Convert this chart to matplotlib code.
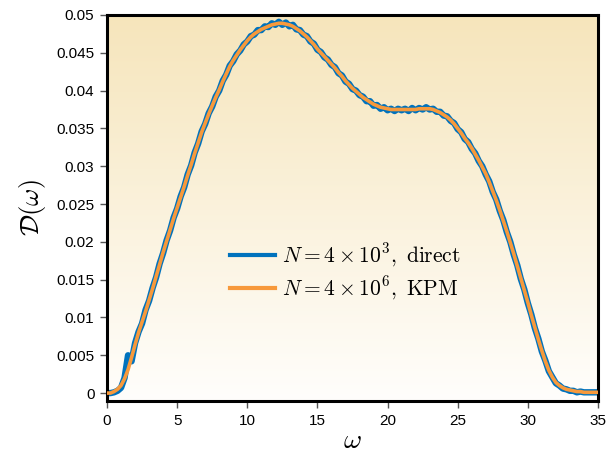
import numpy as np
import matplotlib
matplotlib.use("Agg")
import matplotlib.pyplot as plt
from matplotlib.colors import LinearSegmentedColormap
from matplotlib.ticker import FuncFormatter

plt.rcParams['mathtext.fontset'] = 'cm'
plt.rcParams['font.family'] = ['Liberation Sans', 'DejaVu Sans']

# energy grid (step 0.25 from 0 to 35)
omega = np.arange(141) * 0.25

# N = 4x10^6, KPM (orange, smooth)
dos_kpm = [
    0.0000, 0.0000, 0.0002, 0.0005, 0.0010, 0.0019, 0.0031, 0.0047, 0.0064, 0.0080,
    0.0094, 0.0108, 0.0123, 0.0138, 0.0154, 0.0170, 0.0186, 0.0201, 0.0216, 0.0231,
    0.0245, 0.0259, 0.0273, 0.0288, 0.0302, 0.0317, 0.0331, 0.0345, 0.0357, 0.0369,
    0.0380, 0.0391, 0.0401, 0.0412, 0.0422, 0.0432, 0.0440, 0.0447, 0.0454, 0.0460,
    0.0466, 0.0471, 0.0475, 0.0478, 0.0481, 0.0483, 0.0485, 0.0487, 0.0488, 0.0489,
    0.0489, 0.0488, 0.0487, 0.0485, 0.0482, 0.0479, 0.0475, 0.0471, 0.0466, 0.0461,
    0.0455, 0.0450, 0.0445, 0.0440, 0.0435, 0.0430, 0.0424, 0.0419, 0.0413, 0.0408,
    0.0403, 0.0399, 0.0395, 0.0391, 0.0388, 0.0385, 0.0382, 0.0380, 0.0378, 0.0377,
    0.0376, 0.0375, 0.0375, 0.0375, 0.0375, 0.0375, 0.0375, 0.0375, 0.0375, 0.0376,
    0.0376, 0.0376, 0.0376, 0.0375, 0.0373, 0.0371, 0.0368, 0.0365, 0.0361, 0.0356,
    0.0350, 0.0344, 0.0337, 0.0331, 0.0324, 0.0316, 0.0308, 0.0299, 0.0290, 0.0279,
    0.0267, 0.0255, 0.0242, 0.0228, 0.0214, 0.0199, 0.0184, 0.0168, 0.0152, 0.0136,
    0.0120, 0.0103, 0.0087, 0.0071, 0.0056, 0.0042, 0.0030, 0.0021, 0.0014, 0.0010,
    0.0007, 0.0005, 0.0004, 0.0003, 0.0002, 0.0002, 0.0001, 0.0001, 0.0001, 0.0001,
    0.0001]

# N = 4x10^3, direct diagonalisation (blue, noisy)
dos_direct = [
    0.0000, 0.0000, 0.0001, 0.0003, 0.0007, 0.0020, 0.0050, 0.0042, 0.0066, 0.0081,
    0.0092, 0.0110, 0.0122, 0.0139, 0.0153, 0.0171, 0.0185, 0.0202, 0.0215, 0.0232,
    0.0244, 0.0260, 0.0272, 0.0289, 0.0301, 0.0318, 0.0330, 0.0346, 0.0356, 0.0370,
    0.0379, 0.0392, 0.0400, 0.0413, 0.0421, 0.0433, 0.0439, 0.0448, 0.0453, 0.0461,
    0.0465, 0.0472, 0.0474, 0.0480, 0.0480, 0.0485, 0.0484, 0.0489, 0.0487, 0.0491,
    0.0487, 0.0490, 0.0485, 0.0487, 0.0481, 0.0480, 0.0474, 0.0472, 0.0465, 0.0462,
    0.0454, 0.0451, 0.0444, 0.0441, 0.0434, 0.0431, 0.0423, 0.0420, 0.0412, 0.0409,
    0.0402, 0.0400, 0.0394, 0.0392, 0.0386, 0.0386, 0.0380, 0.0381, 0.0376, 0.0378,
    0.0374, 0.0376, 0.0373, 0.0376, 0.0374, 0.0376, 0.0373, 0.0377, 0.0374, 0.0377,
    0.0375, 0.0378, 0.0375, 0.0376, 0.0372, 0.0372, 0.0367, 0.0366, 0.0360, 0.0357,
    0.0349, 0.0345, 0.0336, 0.0332, 0.0323, 0.0317, 0.0307, 0.0300, 0.0289, 0.0280,
    0.0266, 0.0256, 0.0241, 0.0229, 0.0213, 0.0200, 0.0183, 0.0169, 0.0151, 0.0137,
    0.0119, 0.0104, 0.0086, 0.0072, 0.0055, 0.0043, 0.0029, 0.0021, 0.0013, 0.0010,
    0.0006, 0.0005, 0.0003, 0.0003, 0.0001, 0.0002, 0.0001, 0.0001, 0.0001, 0.0001,
    0.0001]

xticks = [0, 5, 10, 15, 20, 25, 30, 35]
yticks = [0, 0.005, 0.01, 0.015, 0.02, 0.025, 0.03, 0.035, 0.04, 0.045, 0.05]

fig = plt.figure(figsize=(6.16, 4.54), dpi=100)
ax = fig.add_axes([0.1737, 0.1167, 0.797, 0.8503])

cmap = LinearSegmentedColormap.from_list('bg', ['#FFFEFC', '#F6E5BB'])
grad = np.linspace(0, 1, 256).reshape(-1, 1)
ax.imshow(grad, aspect='auto', cmap=cmap, origin='lower',
          extent=[0, 1, 0, 1], transform=ax.transAxes, zorder=0)

ax.plot(omega, dos_direct, color='#0072BD', lw=4.6, solid_joinstyle='round',
        label=r'$N=4\times10^3,\ \mathrm{direct}$', zorder=2)
ax.plot(omega, dos_kpm, color='#F7993B', lw=2.6, solid_joinstyle='round',
        label=r'$N=4\times10^6,\ \mathrm{KPM}$', zorder=3)

ax.set_xlim(0, 35)
ax.set_ylim(-0.00105, 0.05)
ax.set_xticks(xticks)
ax.set_yticks(yticks)
ax.yaxis.set_major_formatter(FuncFormatter(lambda v, p: '%g' % round(v, 4)))
ax.tick_params(direction='out', length=5, width=1.0, labelsize=11,
               color='#555555', pad=4)
for s in ax.spines.values():
    s.set_linewidth(2.2)
    s.set_color('black')

ax.set_xlabel(r'$\omega$', fontsize=20, labelpad=0)
ax.set_ylabel(r'$\mathcal{D}(\omega)$', fontsize=19, labelpad=6)

leg = ax.legend(loc='center', bbox_to_anchor=(0.485, 0.334), frameon=False,
                fontsize=15.5, handlelength=2.1, handletextpad=0.3,
                labelspacing=0.25)
for h in leg.get_lines():
    h.set_linewidth(3)

fig.savefig('out.png', dpi=100)
